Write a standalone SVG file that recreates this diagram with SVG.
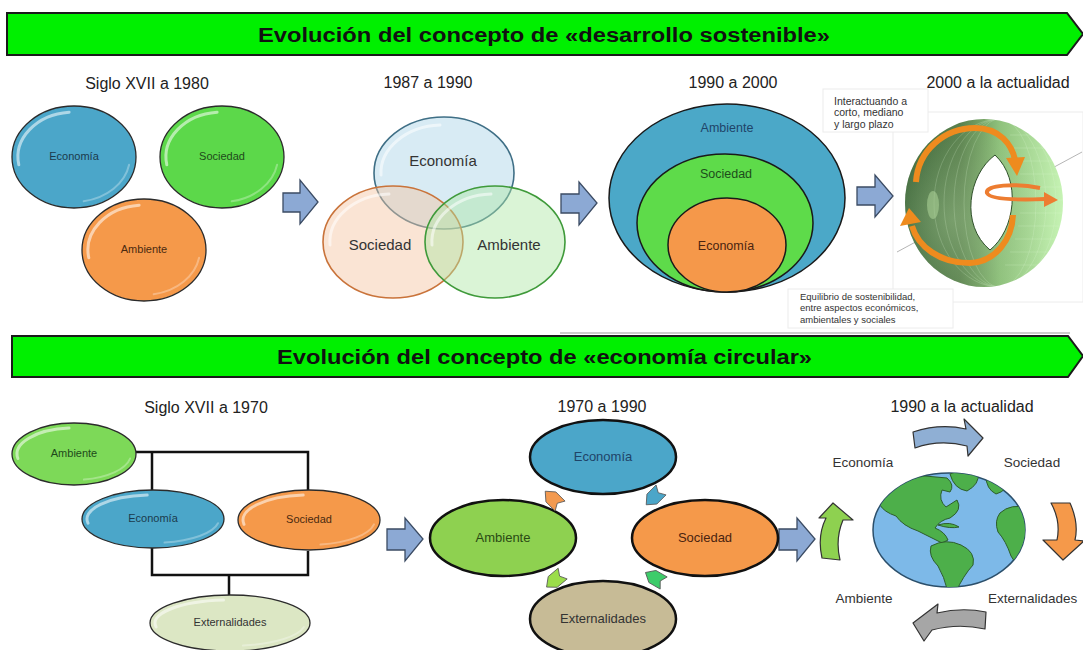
<svg xmlns="http://www.w3.org/2000/svg" width="1083" height="650" viewBox="0 0 1083 650">
<style>
text{font-family:"Liberation Sans",Arial,sans-serif;}
.title{font-weight:bold;font-size:20px;fill:#111;}
.sub{font-size:16px;fill:#222;}
.sm{font-size:11px;text-anchor:middle;}
.md{font-size:13px;text-anchor:middle;}
.lb{font-size:13.5px;text-anchor:middle;}
.banner{fill:#00F000;stroke:#1a1a1a;stroke-width:2;}
.blk{fill:#8CA9D4;stroke:#3b4b63;stroke-width:1.3;}
.gl{stroke:#2b2b2b;stroke-width:1.3;}
.hl{fill:none;stroke:#fff;stroke-opacity:.55;stroke-width:3;stroke-linecap:round;}
.hl2{fill:none;stroke:#fff;stroke-opacity:.3;stroke-width:2;stroke-linecap:round;}
.bk{stroke:#111;stroke-width:2.5;}
.conn{fill:none;stroke:#111;stroke-width:2.5;}
.box{fill:#fff;stroke:#ececec;stroke-width:1;}
.land{fill:#4DAF4A;stroke:#2d5e2b;stroke-width:1;}
.orng{fill:none;stroke:#EE8B1E;stroke-width:6;stroke-linecap:butt;}
</style>
<defs>
<linearGradient id="torusG" x1="0" y1="0" x2="1" y2="0">
<stop offset="0" stop-color="#365f33"/>
<stop offset="0.35" stop-color="#587f4c"/>
<stop offset="0.6" stop-color="#8fc27c"/>
<stop offset="1" stop-color="#c6f3b4"/>
</linearGradient>
<radialGradient id="torusR" cx="0.3" cy="0.6" r="0.6">
<stop offset="0" stop-color="#9ec28f" stop-opacity="0.5"/>
<stop offset="1" stop-color="#9ec28f" stop-opacity="0"/>
</radialGradient>
<clipPath id="torClip"><ellipse cx="984" cy="203" rx="79" ry="84"/></clipPath>
<clipPath id="globeClip"><ellipse cx="949" cy="530" rx="76" ry="57"/></clipPath>
</defs>
<rect width="1083" height="650" fill="#fff"/>

<g id="banner1">
<polygon class="banner" points="7,13 1067,13 1083,34 1067,55 7,55"/>
<text class="title" x="258" y="42" textLength="572" lengthAdjust="spacingAndGlyphs">Evolución del concepto de «desarrollo sostenible»</text>
</g>
<g id="banner2">
<line x1="560" y1="333" x2="1070" y2="333" stroke="#999" stroke-width="1"/>
<polygon class="banner" points="12,336 1068,336 1083,356 1068,377 12,377"/>
<text class="title" x="277" y="364" textLength="535" lengthAdjust="spacingAndGlyphs">Evolución del concepto de «economía circular»</text>
</g>

<g id="subtitles" class="sub" text-anchor="middle">
<text x="147" y="89">Siglo XVII a 1980</text>
<text x="428" y="88">1987 a 1990</text>
<text x="733" y="88">1990 a 2000</text>
<text x="998" y="88">2000 a la actualidad</text>
<text x="206" y="413">Siglo XVII a 1970</text>
<text x="602" y="412">1970 a 1990</text>
<text x="962" y="412">1990 a la actualidad</text>
</g>

<!-- Top section, panel 1 -->
<g id="t1-economia" transform="translate(74,157)">
<ellipse class="gl" rx="62" ry="51" fill="#4BA6C9"/>
<path class="hl" d="M-55.2,7.8 A56,45 0 0 1 -4.9,-44.8"/>
<path class="hl2" d="M55.1,7.8 A56,45 0 0 1 9.7,44.3"/>
<text class="sm" y="3" fill="#1b3a4c">Economía</text>
</g>
<g id="t1-sociedad" transform="translate(222,157)">
<ellipse class="gl" rx="62" ry="51" fill="#5CD84A"/>
<path class="hl" d="M-55.2,7.8 A56,45 0 0 1 -4.9,-44.8"/>
<path class="hl2" d="M55.1,7.8 A56,45 0 0 1 9.7,44.3"/>
<text class="sm" y="3" fill="#1e4a1a">Sociedad</text>
</g>
<g id="t1-ambiente" transform="translate(144,250)">
<ellipse class="gl" rx="62" ry="51" fill="#F5994A"/>
<path class="hl" d="M-55.2,7.8 A56,45 0 0 1 -4.9,-44.8"/>
<path class="hl2" d="M55.1,7.8 A56,45 0 0 1 9.7,44.3"/>
<text class="sm" y="3" fill="#4a2a10">Ambiente</text>
</g>

<!-- Top section, panel 2 (Venn) -->
<g id="t2-venn">
<ellipse cx="444" cy="173" rx="70" ry="56" fill="#a9d2e6" fill-opacity="0.45" stroke="#3f6f86" stroke-width="1.6"/>
<ellipse cx="393" cy="242" rx="70" ry="56" fill="#f4c3a0" fill-opacity="0.45" stroke="#c9733a" stroke-width="1.6"/>
<ellipse cx="495" cy="242" rx="70" ry="56" fill="#aee7a3" fill-opacity="0.45" stroke="#3f9a3a" stroke-width="1.6"/>
<path class="hl" d="M381,175 A62,48 0 0 1 440,125" stroke-opacity="0.7"/>
<path class="hl" d="M330,245 A62,48 0 0 1 389,194" stroke-opacity="0.7"/>
<path class="hl" d="M432,245 A62,48 0 0 1 491,194" stroke-opacity="0.7"/>
<text x="443" y="166" font-size="15" text-anchor="middle" fill="#333">Economía</text>
<text x="380" y="250" font-size="15" text-anchor="middle" fill="#333">Sociedad</text>
<text x="509" y="250" font-size="15" text-anchor="middle" fill="#333">Ambiente</text>
</g>

<!-- Top section, panel 3 (nested) -->
<g id="t3-ambiente">
<ellipse cx="727" cy="198" rx="118" ry="94" fill="#4BA8C8" stroke="#1a1a1a" stroke-width="1.5"/>
<text x="727" y="132" font-size="12.5" text-anchor="middle" fill="#1f4468">Ambiente</text>
</g>
<g id="t3-sociedad">
<ellipse cx="725" cy="223" rx="88" ry="69" fill="#5EDB4A" stroke="#1a1a1a" stroke-width="1.5"/>
<text x="726" y="178" font-size="12.5" text-anchor="middle" fill="#1d4d1a">Sociedad</text>
</g>
<g id="t3-economia">
<ellipse cx="727" cy="245" rx="59" ry="47" fill="#F5984A" stroke="#1a1a1a" stroke-width="1.5"/>
<text x="726" y="250" font-size="12.5" text-anchor="middle" fill="#4a2410">Economía</text>
</g>

<!-- Top section, panel 4 (torus) -->
<g id="t4-torus">
<rect class="box" x="893" y="112" width="190" height="190"/>
<line x1="897" y1="252" x2="1082" y2="152" stroke="#b5b5b5" stroke-width="1"/>
<ellipse cx="984" cy="203" rx="79" ry="84" fill="url(#torusG)"/>
<ellipse cx="984" cy="203" rx="79" ry="84" fill="url(#torusR)"/>
<g clip-path="url(#torClip)" stroke="#e4f9da" stroke-opacity="0.35" stroke-width="0.6" fill="none">
<ellipse cx="1000" cy="203" rx="36" ry="84"/>
<ellipse cx="1000" cy="203" rx="46" ry="84"/>
<ellipse cx="1000" cy="203" rx="56" ry="84"/>
<ellipse cx="1000" cy="203" rx="66" ry="84"/>
<path d="M1010,135 H1070 M1010,148 H1075 M1015,161 H1080 M1020,174 H1080 M1020,187 H1080 M1020,200 H1080 M1020,213 H1080 M1018,226 H1080 M1015,239 H1075 M1010,252 H1070 M1005,265 H1060"/>
</g>
<path d="M995,155 C968,175 960,225 990,250 C1015,230 1022,180 995,155 Z" fill="#fff" stroke="#2f4f2a" stroke-width="1"/>
<ellipse cx="933" cy="205" rx="6" ry="14" fill="#a8cf95" opacity="0.6"/>
<path class="orng" d="M916,182 C918,150 945,128 975,128 C1000,128 1012,145 1015,160"/>
<polygon points="1006,158 1025,157 1017,176" fill="#EE8B1E"/>
<path class="orng" d="M1013,215 C1012,240 995,262 970,263 C940,263 918,247 912,226"/>
<polygon points="900,226 921,222 909,208" fill="#EE8B1E"/>
<path d="M1040,188 C1015,183 985,185 987,193 C990,200 1020,200 1045,199" fill="none" stroke="#ED7D31" stroke-width="4"/>
<polygon points="1044,192 1058,200 1044,207" fill="#ED7D31"/>
</g>
<g id="t4-note1">
<rect class="box" x="823" y="89" width="105" height="43"/>
<text x="834" y="105" font-size="10.5" fill="#333">Interactuando a</text>
<text x="834" y="116" font-size="10.5" fill="#333">corto, mediano</text>
<text x="834" y="128" font-size="10.5" fill="#333">y largo plazo</text>
</g>
<g id="t4-note2">
<rect class="box" x="788" y="289" width="165" height="39"/>
<text x="800" y="300" font-size="9.5" fill="#333">Equilibrio de sostenibilidad,</text>
<text x="800" y="311" font-size="9.5" fill="#333">entre aspectos económicos,</text>
<text x="800" y="323" font-size="9.5" fill="#333">ambientales y sociales</text>
</g>

<!-- Bottom section, panel 1 -->
<g id="connectors">
<path class="conn" d="M136,452 H308 V490 M152,452 V490"/>
<path class="conn" d="M152,548 V575 H308 V551 M229,575 V596"/>
</g>
<g id="b1-ambiente" transform="translate(74,454)">
<ellipse class="gl" rx="62" ry="31" fill="#7DD958"/>
<path class="hl" d="M-56.1,4.5 A57,26 0 0 1 -5,-25.9"/>
<path class="hl2" d="M56.1,4.5 A57,26 0 0 1 9.9,25.6"/>
<text class="sm" y="3" fill="#1e4a1a">Ambiente</text>
</g>
<g id="b1-economia" transform="translate(153,519)">
<ellipse class="gl" rx="71" ry="29" fill="#4BA6C9"/>
<path class="hl" d="M-65,4.2 A66,24 0 0 1 -5.8,-23.9"/>
<path class="hl2" d="M65,4.2 A66,24 0 0 1 11.5,23.6"/>
<text class="sm" y="3" fill="#1b3a4c">Economía</text>
</g>
<g id="b1-sociedad" transform="translate(309,520)">
<ellipse class="gl" rx="71" ry="30" fill="#F5994A"/>
<path class="hl" d="M-65,4.3 A66,25 0 0 1 -5.8,-24.9"/>
<path class="hl2" d="M65,4.3 A66,25 0 0 1 11.5,24.6"/>
<text class="sm" y="3" fill="#4a2a10">Sociedad</text>
</g>
<g id="b1-externalidades" transform="translate(230,623)">
<ellipse class="gl" rx="80" ry="28" fill="#DCE7C4"/>
<path class="hl" d="M-73.9,4 A75,23 0 0 1 -6.5,-22.9"/>
<path class="hl2" d="M73.9,4 A75,23 0 0 1 13,22.6"/>
<text class="sm" y="3" fill="#333">Externalidades</text>
</g>

<!-- Block arrows -->
<g id="block-arrows">
<polygon class="blk" points="283,193 300,193 300,180 318,202 300,224 300,212 283,212"/>
<polygon class="blk" points="561,194 579,194 579,182 597,203 579,225 579,213 561,213"/>
<polygon class="blk" points="857,187 875,187 875,175 893,196 875,217 875,205 857,205"/>
<polygon class="blk" points="387,529 405,529 405,518 423,539 405,561 405,550 387,550"/>
<polygon class="blk" points="779,529 797,529 797,518 815,539 797,561 797,550 779,550"/>
</g>

<!-- Bottom section, panel 2 -->
<g id="b2-economia">
<ellipse class="bk" cx="603" cy="457" rx="73" ry="37" fill="#4BA6C9"/>
<text class="md" x="603" y="461" fill="#1f4468">Economía</text>
</g>
<g id="b2-ambiente">
<ellipse class="bk" cx="503" cy="538" rx="73" ry="38" fill="#8ED150"/>
<text class="md" x="503" y="542" fill="#2a4a14">Ambiente</text>
</g>
<g id="b2-sociedad">
<ellipse class="bk" cx="705" cy="538" rx="73" ry="38" fill="#F5994A"/>
<text class="md" x="705" y="542" fill="#4a2410">Sociedad</text>
</g>
<g id="b2-externalidades">
<ellipse class="bk" cx="603" cy="619" rx="73" ry="38" fill="#C7BB96"/>
<text class="md" x="603" y="623" fill="#333">Externalidades</text>
</g>
<g id="b2-small-arrows" stroke="#555" stroke-width="0.8">
<polygon transform="translate(553,499) rotate(-135)" points="-10,-7 3,-7 11,0 3,7 -10,7 -6,0" fill="#F39A50"/>
<polygon transform="translate(654,497) rotate(135)" points="-10,-7 3,-7 11,0 3,7 -10,7 -6,0" fill="#4BA6C9"/>
<polygon transform="translate(655,578) rotate(-150)" points="-10,-7 3,-7 11,0 3,7 -10,7 -6,0" fill="#3DCC6A"/>
<polygon transform="translate(555,580) rotate(140)" points="-10,-7 3,-7 11,0 3,7 -10,7 -6,0" fill="#9BDD4A"/>
</g>

<!-- Bottom section, panel 3 -->
<g id="b3-globe">
<ellipse cx="949" cy="530" rx="76" ry="57" fill="#7DB9E8" stroke="#2b4f6b" stroke-width="1.5"/>
<g clip-path="url(#globeClip)">
<path class="land" d="M880,505 Q893,480 925,476 L947,478 Q955,485 950,492 L942,490 Q938,500 946,507 L957,500 Q963,510 950,518 Q940,520 935,528 Q945,532 948,540 L942,543 Q928,536 918,531 Q903,526 896,516 Q884,512 880,505 Z"/>
<path class="land" d="M931,546 Q946,538 961,545 Q976,552 973,565 Q963,576 956,592 L948,592 Q944,576 938,566 Q928,556 931,546 Z"/>
<path class="land" d="M950,474 Q963,468 978,473 Q980,484 967,491 Q954,489 950,474 Z"/>
<path class="land" d="M1000,513 Q1011,503 1028,508 L1028,562 Q1016,567 1011,556 Q1006,541 998,532 Q994,521 1000,513 Z"/>
<path class="land" d="M986,476 Q998,471 1012,478 Q1007,491 996,494 Q986,489 986,476 Z"/>
<path class="land" d="M938,525 Q950,521 959,527 Q950,529 938,525 Z"/>
</g>
</g>
<g id="b3-labels" fill="#333">
<text class="lb" x="863" y="467">Economía</text>
<text class="lb" x="1032" y="467">Sociedad</text>
<text class="lb" x="864" y="603">Ambiente</text>
<text x="988" y="603" font-size="13.5">Externalidades</text>
</g>
<g id="b3-cycle-arrows" stroke="#333" stroke-width="1.2" stroke-linejoin="round">
<path d="M913,432 Q940,423 966,429 L964,419 L983,438 L968,456 L967,446 Q940,439 915,448 Z" fill="#8FAFD4"/>
<path d="M1051,503 L1070,503 Q1079,523 1075,540 L1084,541 L1063,560 L1043,540 L1057,540 Q1061,521 1051,503 Z" fill="#F5994A"/>
<path d="M986,612 Q962,607 937,613 L938,604 L913,623 L924,641 L932,630 Q958,623 985,629 Z" fill="#A6A6A6"/>
<path d="M822,558 Q817,536 826,518 L819,518 L833,503 L853,520 L843,520 Q835,539 840,560 Z" fill="#8ED150"/>
</g>
</svg>
